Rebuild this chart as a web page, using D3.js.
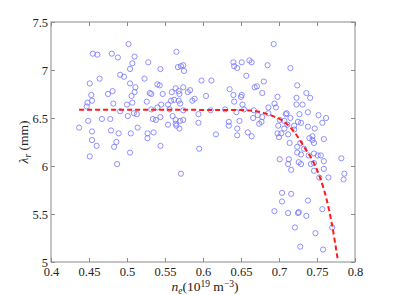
<!DOCTYPE html>
<html>
<head>
<meta charset="utf-8">
<script src="https://cdn.jsdelivr.net/npm/d3@7"></script>
<style>
  html, body { margin: 0; padding: 0; background: #fff; }
  svg { display: block; }
  text { font-family: "Liberation Serif", "Times New Roman", serif; fill: #222; }
</style>
</head>
<body>
<svg id="chart" width="393" height="295"></svg>
<script>
// ---- data ----
const density = [
  0.437,0.449,0.447,0.448,0.454,0.453,0.451,0.464,0.455,0.461,0.454,0.454,0.460,0.451,
  0.467,0.480,0.488,0.491,0.496,0.475,0.481,0.482,0.478,0.479,0.489,0.486,0.483,0.491,0.487,
  0.502,0.510,0.507,0.504,0.504,0.511,0.510,0.506,0.507,0.500,0.501,0.509,0.513,0.505,0.514,0.504,
  0.523,0.528,0.526,0.530,0.532,0.527,0.527,0.535,0.534,
  0.544,0.540,0.543,0.545,0.544,0.538,0.540,0.532,0.544,0.547,0.554,0.556,0.558,0.554,0.559,
  0.562,0.564,0.568,0.565,0.567,0.571,0.574,0.575,0.574,0.569,0.568,0.570,0.580,0.560,0.564,
  0.570,0.574,0.564,0.565,0.569,0.574,0.571,
  0.586,0.589,0.583,0.594,0.594,0.598,0.611,0.604,0.610,0.617,0.595,
  0.629,0.634,0.634,0.635,0.640,0.641,0.640,0.641,0.645,0.651,0.657,0.661,0.664,0.651,0.650,
  0.652,0.654,0.644,0.648,0.645,0.645,0.659,0.664,0.666,0.668,
  0.671,0.678,0.680,0.685,0.693,0.672,0.678,0.677,0.674,0.667,0.686,0.694,0.696,0.686,0.698,
  0.701,0.699,0.698,0.703,0.700,0.709,0.710,0.707,0.711,0.715,0.707,0.712,0.714,
  0.725,0.729,0.727,0.720,0.720,0.715,0.724,0.723,0.723,0.731,0.736,0.741,0.738,0.738,0.747,
  0.744,0.744,0.746,0.740,0.724,0.728,0.752,0.762,0.757,0.759,
  0.724,0.729,0.726,0.729,0.713,0.712,0.701,0.716,0.733,0.739,0.742,0.746,0.746,0.751,0.755,
  0.746,0.759,0.759,0.753,0.765,0.782,0.786,0.785,
  0.704,0.716,0.704,0.738,0.694,0.712,0.726,0.725,0.736,0.757,0.721,0.770,0.748,0.728,0.758
];
const lambdaR = [
  6.40,6.47,6.62,6.66,6.68,6.74,6.86,6.91,7.17,7.16,6.36,6.27,6.21,6.10,
  6.49,7.17,7.13,6.95,6.93,6.75,6.78,6.65,6.49,6.37,6.34,6.25,6.20,6.57,6.02,
  7.27,7.14,7.07,7.01,6.86,6.82,6.77,6.73,6.66,6.64,6.52,6.55,6.54,6.34,6.40,6.14,
  6.91,7.08,6.67,6.76,6.75,6.34,6.29,6.35,6.49,
  7.01,6.85,6.84,6.64,6.51,6.48,6.61,6.59,6.21,6.75,6.64,6.59,6.68,6.43,6.77,
  6.69,6.81,6.78,7.19,7.03,7.04,7.05,6.99,6.82,6.75,6.68,6.65,6.77,6.52,6.48,
  6.47,6.48,6.44,6.42,6.39,6.58,5.92,
  6.68,6.70,6.79,6.54,6.45,6.89,6.89,6.73,6.58,6.33,6.18,
  6.59,6.46,6.42,6.80,6.74,6.67,7.08,7.04,7.02,7.08,6.94,7.10,7.08,6.74,6.72,
  6.64,6.59,6.56,6.47,6.39,6.32,6.35,6.31,6.50,6.82,
  6.83,6.76,6.88,7.05,7.27,6.53,6.51,6.46,6.44,6.58,6.61,6.65,6.61,6.55,6.72,
  6.48,6.42,6.34,6.34,6.30,6.54,6.55,6.47,6.43,6.50,6.39,6.33,6.24,
  6.46,6.45,6.54,6.42,6.38,7.02,6.84,6.71,6.64,6.64,6.76,6.71,6.56,6.41,6.39,
  6.31,6.27,6.24,6.29,6.20,6.24,6.53,6.50,6.45,6.28,
  6.14,6.12,6.04,6.02,6.07,6.02,6.07,5.96,6.18,6.11,6.02,6.03,5.95,6.11,6.11,
  6.13,6.05,5.97,5.88,5.88,6.08,5.92,5.86,
  5.72,5.71,5.63,5.64,5.53,5.51,5.52,5.51,5.48,5.55,5.36,5.36,5.30,5.16,5.13
];
const fitDensity = [0.437, 0.550, 0.620, 0.650, 0.663, 0.672, 0.681, 0.692, 0.703, 0.718, 0.733, 0.749, 0.753, 0.763, 0.769, 0.777];
const fitLambda  = [6.585, 6.585, 6.584, 6.583, 6.578, 6.568, 6.55, 6.52, 6.48, 6.375, 6.20, 5.98, 5.90, 5.64, 5.42, 5.04];
const xTicks = [0.4, 0.45, 0.5, 0.55, 0.6, 0.65, 0.7, 0.75, 0.8];
const yTicks = [5, 5.5, 6, 6.5, 7, 7.5];

// ---- layout ----
const svg = d3.select("#chart");
const m = { left: 51, top: 22, right: 38, bottom: 33 };
const W = 393, H = 295;
const iw = W - m.left - m.right, ih = H - m.top - m.bottom;
const g = svg.append("g").attr("transform", `translate(${m.left},${m.top})`);

const x = d3.scaleLinear().domain([0.4, 0.8]).range([0, iw]);
const y = d3.scaleLinear().domain([5, 7.5]).range([ih, 0]);

const fmt = d => String(+d.toFixed(2));
const axisColor = "#8a8a8a";
const tickLen = 4;

// scatter
const pts = density.map((d, i) => ({ x: d, y: lambdaR[i] }));
g.append("g").selectAll("circle").data(pts).join("circle")
  .attr("cx", d => x(d.x)).attr("cy", d => y(d.y)).attr("r", 2.6)
  .attr("fill", "none").attr("stroke", "#6f6fff").attr("stroke-width", 0.9)
  .attr("stroke-opacity", 0.85);

// fitted curve
const fit = fitDensity.map((d, i) => ({ x: d, y: fitLambda[i] }));
g.append("path").datum(fit)
  .attr("d", d3.line().x(d => x(d.x)).y(d => y(d.y)).curve(d3.curveMonotoneX))
  .attr("fill", "none").attr("stroke", "#ff1a1a").attr("stroke-width", 2)
  .attr("stroke-dasharray", "5,3");

// axes (ticks inward on all sides)
function styleAxis(sel) {
  sel.attr("font-family", null).attr("font-size", null);
  sel.select(".domain").remove();
  sel.selectAll(".tick line").attr("stroke", axisColor);
  sel.selectAll(".tick text").style("font-size", "12.5px")
     .style("font-family", "'Liberation Serif', serif").attr("fill", "#222");
}
g.append("g").attr("transform", `translate(0,${ih})`)
  .call(d3.axisBottom(x).tickValues(xTicks).tickFormat(fmt).tickSizeInner(-tickLen).tickSizeOuter(0).tickPadding(5))
  .call(styleAxis);
g.append("g")
  .call(d3.axisTop(x).tickValues(xTicks).tickFormat("").tickSizeInner(-tickLen).tickSizeOuter(0))
  .call(styleAxis);
g.append("g")
  .call(d3.axisLeft(y).tickValues(yTicks).tickFormat(fmt).tickSizeInner(-tickLen).tickSizeOuter(0).tickPadding(3))
  .call(styleAxis);
g.append("g").attr("transform", `translate(${iw},0)`)
  .call(d3.axisRight(y).tickValues(yTicks).tickFormat("").tickSizeInner(-tickLen).tickSizeOuter(0))
  .call(styleAxis);

// frame
g.append("rect").attr("x", 0).attr("y", 0).attr("width", iw).attr("height", ih)
  .attr("fill", "none").attr("stroke", axisColor).attr("stroke-width", 1);

// x label
const xl = svg.append("text").attr("x", m.left + iw / 2 + 2).attr("y", 291)
  .attr("text-anchor", "middle").style("font-size", "13.5px");
xl.append("tspan").text("n").style("font-style", "italic");
xl.append("tspan").text("e").style("font-style", "italic").style("font-size", "9.5px").attr("dy", 3);
xl.append("tspan").text("(10").attr("dy", -3);
xl.append("tspan").text("19").style("font-size", "9.5px").attr("dy", -4.5);
xl.append("tspan").text(" m").attr("dy", 4.5);
xl.append("tspan").text("−3").style("font-size", "9.5px").attr("dy", -4.5);
xl.append("tspan").text(")").attr("dy", 4.5);

// y label
const yl = svg.append("text")
  .attr("transform", `translate(28,${m.top + ih / 2}) rotate(-90)`)
  .attr("text-anchor", "middle").style("font-size", "13.5px");
yl.append("tspan").text("λ").style("font-style", "italic");
yl.append("tspan").text("r").style("font-style", "italic").style("font-size", "9.5px").attr("dy", 3);
yl.append("tspan").text(" (mm)").attr("dy", -3);
</script>
</body>
</html>
